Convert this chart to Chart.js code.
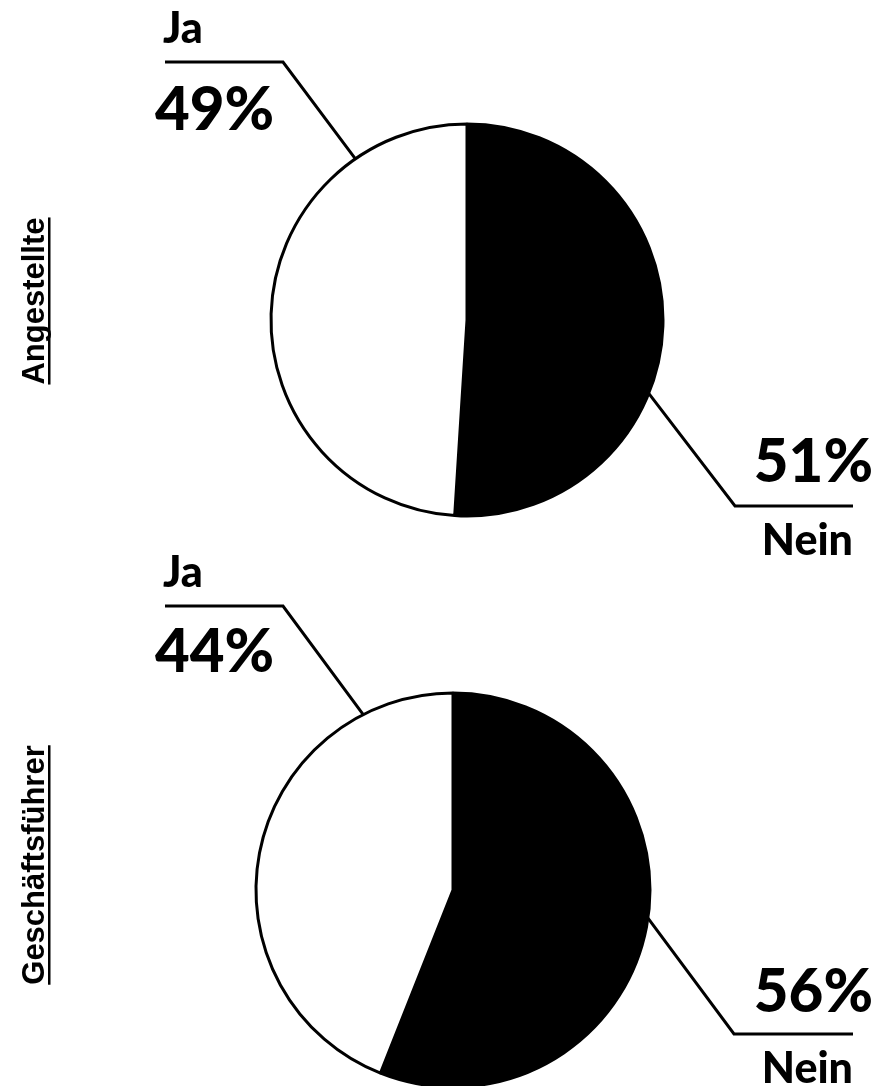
<!DOCTYPE html>
<html>
<head>
<meta charset="utf-8">
<script src="https://cdn.jsdelivr.net/npm/chart.js@4"></script>
<style>
html, body { margin: 0; padding: 0; background: #fff; overflow: hidden; }
#wrap { position: relative; width: 892px; height: 1086px; overflow: hidden; }
canvas { position: absolute; left: 0; top: 0; }
</style>
</head>
<body>
<div id="wrap">
    <canvas id="chartAngestellte" width="892" height="1086"></canvas>
    <canvas id="chartGF" width="892" height="1086"></canvas>
</div>
<script>
// daten
const kategorien = ['Nein', 'Ja'];
const werteAngestellte = [51, 49];
const werteGF = [56, 44];

const farben = ['#000000', '#ffffff'];

// beschriftungen mit linien
const beschriftungPlugin = {
    id: 'beschriftung',
    afterDraw(chart, args, opts) {
        const ctx = chart.ctx;
        const arc = chart.getDatasetMeta(0).data[0];
        const cx = arc.x, cy = arc.y, r = arc.outerRadius;
        const werte = chart.data.datasets[0].data;
        const labels = chart.data.labels;

        ctx.save();
        ctx.strokeStyle = '#000';
        ctx.fillStyle = '#000';
        ctx.lineWidth = 3;
        ctx.lineJoin = 'miter';

        opts.linien.forEach(function (l) {
            const a = l.winkel * Math.PI / 180;
            const ax = cx + r * Math.sin(a);
            const ay = cy - r * Math.cos(a);
            ctx.beginPath();
            ctx.moveTo(ax, ay);
            ctx.lineTo(l.knickX, l.linieY);
            ctx.lineTo(l.endeX, l.linieY);
            ctx.stroke();

            ctx.textAlign = l.align;
            ctx.textBaseline = 'alphabetic';
            ctx.font = '900 43px Lato';
            ctx.fillText(labels[l.index], l.nameX, l.nameY);
            ctx.font = '900 60px Lato';
            ctx.fillText(werte[l.index] + '%', l.prozentX, l.prozentY);
        });

        // titel links, gedreht und unterstrichen
        ctx.translate(44, opts.titelY);
        ctx.rotate(-Math.PI / 2);
        ctx.font = 'bold 31px "Liberation Sans"';
        ctx.textAlign = 'center';
        ctx.fillText(opts.titel, 0, 0);
        const w = ctx.measureText(opts.titel).width;
        ctx.fillRect(-w / 2, 4, w, 2.5);
        ctx.restore();
    }
};

function erstelleKuchen(id, werte, titel, padding, radius, beschriftung) {
    const ctx = document.getElementById(id);
    return new Chart(ctx, {
        type: 'pie',
        data: {
            labels: kategorien,
            datasets: [{
                label: titel,
                data: werte,
                backgroundColor: farben,
                borderColor: '#000000',
                borderWidth: 3
            }]
        },
        options: {
            responsive: false,
            animation: false,
            radius: radius,
            layout: { padding: padding },
            plugins: {
                legend: { display: false },
                tooltip: { enabled: false },
                beschriftung: beschriftung
            }
        },
        plugins: [beschriftungPlugin]
    });
}

var chartAngestellte = erstelleKuchen('chartAngestellte', werteAngestellte, 'Angestellte',
    { left: 42, right: 0, top: 0, bottom: 446 }, 196, {
        titel: 'Angestellte',
        titelY: 301,
        linien: [
            { index: 1, winkel: 325.3, knickX: 283, endeX: 165, linieY: 62, align: 'left',
              nameX: 163, nameY: 43, prozentX: 155, prozentY: 130 },
            { index: 0, winkel: 112, knickX: 735, endeX: 853, linieY: 506, align: 'right',
              nameX: 853, nameY: 555, prozentX: 873, prozentY: 482 }
        ]
    });

var chartGF = erstelleKuchen('chartGF', werteGF, 'Geschäftsführer',
    { left: 14, right: 0, top: 694, bottom: 0 }, 197, {
        titel: 'Geschäftsführer',
        titelY: 865,
        linien: [
            { index: 1, winkel: 332.9, knickX: 283, endeX: 165, linieY: 606, align: 'left',
              nameX: 163, nameY: 587, prozentX: 155, prozentY: 672 },
            { index: 0, winkel: 98.2, knickX: 734, endeX: 853, linieY: 1034, align: 'right',
              nameX: 853, nameY: 1083, prozentX: 873, prozentY: 1012 }
        ]
    });
</script>
</body>
</html>
